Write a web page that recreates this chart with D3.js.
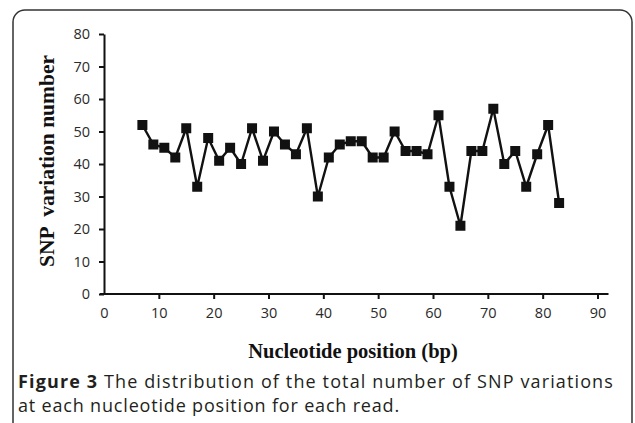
<!DOCTYPE html>
<html>
<head>
<meta charset="utf-8">
<script src="https://cdn.jsdelivr.net/npm/d3@7"></script>
<style>
  body { margin: 0; background: #fff; }
  svg { display: block; }
</style>
</head>
<body>
<div id="chart"></div>
<script>
// nucleotide positions (bp) and the SNP variation counts
var positions = [7, 9, 11, 13, 15, 17, 19, 21, 23, 25, 27, 29, 31, 33, 35, 37, 39, 41, 43, 45,
                 47, 49, 51, 53, 55, 57, 59, 61, 63, 65, 67, 69, 71, 73, 75, 77, 79, 81, 83];
var snpCounts = [52, 46, 45, 42, 51, 33, 48, 41, 45, 40, 51, 41, 50, 46, 43, 51, 30, 42, 46, 47,
                 47, 42, 42, 50, 44, 44, 43, 55, 33, 21, 44, 44, 57, 40, 44, 33, 43, 52, 28];
var xTicks = [0, 10, 20, 30, 40, 50, 60, 70, 80, 90];
var yTicks = [0, 10, 20, 30, 40, 50, 60, 70, 80];

var width = 635, height = 423;

var svg = d3.select('#chart')
    .append('svg')
    .attr('width', width)
    .attr('height', height);

// rounded frame of the figure box (runs off the right and bottom)
svg.append('rect')
    .attr('x', 13)
    .attr('y', 10)
    .attr('width', 619)
    .attr('height', 440)
    .attr('rx', 12)
    .attr('fill', 'none')
    .attr('stroke', '#333')
    .attr('stroke-width', 1.5);

var x = d3.scaleLinear().domain([0, 90]).range([104, 597.5]);
var y = d3.scaleLinear().domain([0, 80]).range([294, 34]);

var tickFont = '"Open Sans", sans-serif';

// y axis
var yAxis = svg.append('g')
    .attr('transform', 'translate(' + x(0) + ',0)')
    .call(d3.axisLeft(y).tickValues(yTicks).tickSize(5).tickSizeOuter(0).tickPadding(9));

// x axis
var xAxis = svg.append('g')
    .attr('transform', 'translate(0,' + y(0) + ')')
    .call(d3.axisBottom(x).tickValues(xTicks).tickSize(5).tickSizeOuter(0).tickPadding(9));
xAxis.select('.domain').remove();
xAxis.select('.tick line').remove();   // the 0 tick sits on the y axis

svg.append('line')
    .attr('x1', x(0) - 4)
    .attr('x2', x(90) + 11)
    .attr('y1', y(0))
    .attr('y2', y(0))
    .attr('stroke', '#111')
    .attr('stroke-width', 2);

[xAxis, yAxis].forEach(function(a) {
    a.selectAll('.domain').attr('stroke', '#111').attr('stroke-width', 2);
    a.selectAll('.tick line').attr('stroke', '#111').attr('stroke-width', 2);
    a.selectAll('.tick text')
        .attr('font-family', tickFont)
        .attr('font-size', 14.5)
        .attr('fill', '#2a2a2a');
});

// line and square markers
var line = d3.line()
    .x(function(d, i) { return x(positions[i]); })
    .y(function(d) { return y(d); });

svg.append('path')
    .datum(snpCounts)
    .attr('d', line)
    .attr('fill', 'none')
    .attr('stroke', '#111')
    .attr('stroke-width', 2.4);

var m = 10;
svg.selectAll('.marker')
    .data(snpCounts)
    .enter().append('rect')
    .attr('class', 'marker')
    .attr('x', function(d, i) { return x(positions[i]) - m / 2; })
    .attr('y', function(d) { return y(d) - m / 2; })
    .attr('width', m)
    .attr('height', m)
    .attr('fill', '#111');

// axis titles
svg.append('text')
    .attr('x', 353)
    .attr('y', 358)
    .attr('text-anchor', 'middle')
    .attr('font-family', '"Liberation Serif", serif')
    .attr('font-weight', 'bold')
    .attr('font-size', 20.5)
    .attr('fill', '#111')
    .text('Nucleotide position (bp)');

svg.append('text')
    .attr('transform', 'translate(54,161) rotate(-90)')
    .attr('text-anchor', 'middle')
    .attr('font-family', '"Liberation Serif", serif')
    .attr('font-weight', 'bold')
    .attr('font-size', 21.5)
    .attr('fill', '#111')
    .attr('xml:space', 'preserve')
    .text('SNP  variation number');

// caption, two lines; each is spread to the width it has in the original
function captionLine(yPos, parts, target) {
    var t = svg.append('text')
        .attr('x', 18)
        .attr('y', yPos)
        .attr('font-family', '"Open Sans", sans-serif')
        .attr('font-size', 18)
        .attr('fill', '#231f20');
    parts.forEach(function(p) {
        t.append('tspan').attr('font-weight', p[1] ? 'bold' : null).text(p[0]);
    });
    var n = parts.map(function(p) { return p[0]; }).join('').length;
    for (var k = 0; k < 3; k++) {
        var w = t.node().getBBox().width;
        var cur = +t.attr('letter-spacing') || 0;
        t.attr('letter-spacing', (cur + (target - w) / n).toFixed(3));
    }
}

captionLine(388, [['Figure 3', true], [' The distribution of the total number of SNP variations', false]], 596);
captionLine(412, [['at each nucleotide position for each read.', false]], 382);
</script>
</body>
</html>
